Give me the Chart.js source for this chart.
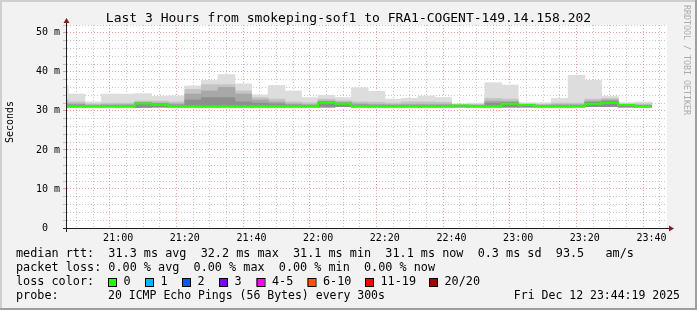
<!DOCTYPE html>
<html><head><meta charset="utf-8">
<script src="https://cdn.jsdelivr.net/npm/chart.js@4/dist/chart.umd.min.js"></script>
<style>html,body{margin:0;padding:0;background:#f2f2f2;}canvas{display:block;}</style>
</head><body>
<canvas id="c" width="697" height="310"></canvas>
<script>
// ---- data (5-minute bins, start time of each bin) ----
const binStarts = ['20:40','20:45','20:50','20:55','21:00','21:05','21:10','21:15','21:20','21:25','21:30','21:35',
  '21:40','21:45','21:50','21:55','22:00','22:05','22:10','22:15','22:20','22:25','22:30','22:35',
  '22:40','22:45','22:50','22:55','23:00','23:05','23:10','23:15','23:20','23:25','23:30','23:35'];
const medianRtt = [31.2, 31.2,31.2,31.2,31.2,31.9,31.6,31.2,31.2,31.2,31.2,31.2,31.2,31.2,31.2,31.2,32.1,31.8,31.2,31.2,31.2,31.2,31.2,31.2,31.4,31.2,31.2,31.8,31.5,31.2,31.2,31.2,31.8,32.1,31.5,31.1];
const smokeLow   = [31.0, 31.0,31.0,31.0,31.0,30.9,31.0,31.0,31.0,31.0,31.0,31.0,31.0,31.0,31.0,31.0,31.0,31.1,31.0,31.0,31.0,31.0,31.0,31.0,31.0,31.0,31.0,31.0,31.0,31.0,31.0,31.0,31.1,31.1,31.0,31.0];
const smokeOuter = [36.5, 34.3,32.3,34.3,34.3,34.4,33.7,33.8,36.4,37.8,39.3,36.9,34.1,36.5,35.1,33.4,34.0,33.4,35.9,35.0,33.0,33.2,33.8,33.4,31.8,32.0,37.2,36.6,32.1,32.1,33.2,39.1,37.8,33.7,32.1,32.3];
const smokeMid   = [33.0, 32.3,31.8,32.0,32.0,32.5,32.5,32.3,35.5,36.7,36.7,35.1,33.4,33.0,32.3,32.1,33.0,32.6,32.3,32.2,32.0,32.3,32.3,32.2,31.6,31.6,33.2,33.0,31.8,31.7,32.0,32.0,33.0,33.2,31.8,31.8];
const smokeInner = [32.0, 31.8,31.5,31.6,31.6,32.2,32.0,31.8,34.3,35.1,36.0,34.3,32.8,32.3,31.8,31.6,32.5,32.2,31.8,31.7,31.6,31.7,31.7,31.7,31.5,31.5,32.5,32.4,31.6,31.5,31.6,31.6,32.5,32.8,31.6,31.5];
const smokeCore  = [31.5, 31.5,31.3,31.4,31.4,32.0,31.8,31.5,32.8,33.4,33.4,32.3,32.0,31.8,31.5,31.4,32.3,32.0,31.5,31.4,31.4,31.4,31.4,31.4,31.4,31.3,32.0,32.1,31.6,31.3,31.4,31.4,32.2,32.5,31.6,31.3];

const xTickLabels = ['21:00','21:20','21:40','22:00','22:20','22:40','23:00','23:20','23:40'];
const yTickValues = [0, 10, 20, 30, 40, 50];
const yTickLabels = ['0  ', '10 m', '20 m', '30 m', '40 m', '50 m'];

const titleText = 'Last 3 Hours from smokeping-sof1 to FRA1-COGENT-149.14.158.202';
const yAxisTitle = 'Seconds';
const rttLine = 'median rtt:  31.3 ms avg  32.2 ms max  31.1 ms min  31.1 ms now  0.3 ms sd  93.5   am/s';
const lossLine = 'packet loss: 0.00 % avg  0.00 % max  0.00 % min  0.00 % now';
const lossColorHeader = 'loss color:';
const lossLabels = ['0', '1', '2', '3', '4-5', '6-10', '11-19', '20/20'];
const lossColors = ['#26ff00', '#00b8ff', '#0059ff', '#7e00ff', '#ff00ff', '#ff5500', '#ff0000', '#a10000'];
const probeHeader = 'probe:';
const probeText = '20 ICMP Echo Pings (56 Bytes) every 300s';
const dateText = 'Fri Dec 12 23:44:19 2025';
const watermark = 'RRDTOOL / TOBI OETIKER';

// ---- helpers ----
const MONO = '"DejaVu Sans Mono", monospace';
const T0 = 20 * 60 + 45;
function toMin(s) { const p = s.split(':'); return (+p[0]) * 60 + (+p[1]) - T0; }
const BIN = 5;
const xMajor = xTickLabels.map(toMin);

function layer(arr, color, order) {
  return {
    type: 'bar', order: order, grouped: false,
    data: binStarts.map((t, i) => ({ x: toMin(t) + BIN / 2, y: [smokeLow[i], arr[i]] })),
    backgroundColor: color, borderWidth: 0, barPercentage: 1, categoryPercentage: 1, inflateAmount: 0.4
  };
}
const medianPts = binStarts.map((t, i) => ({ x: toMin(t), y: medianRtt[i] }));
medianPts.push({ x: toMin(binStarts[binStarts.length - 1]) + BIN, y: medianRtt[medianRtt.length - 1] });

const GRID = 'rgba(143,143,143,0.5)';
const MGRID = 'rgba(222,79,79,0.55)';
const tv = (c) => (c && c.tick) ? c.tick.value : NaN;

const decor = {
  id: 'decor',
  beforeDraw(chart) {
    const { ctx, chartArea: a } = chart;
    ctx.save();
    ctx.fillStyle = '#f2f2f2'; ctx.fillRect(0, 0, 697, 310);
    ctx.fillStyle = '#ffffff'; ctx.fillRect(a.left, a.top, a.right - a.left, a.bottom - a.top);
    ctx.restore();
  },
  afterDraw(chart) {
    const { ctx, chartArea: a } = chart;
    ctx.save();
    ctx.strokeStyle = 'rgb(31,31,31)'; ctx.lineWidth = 1;
    ctx.beginPath();
    ctx.moveTo(a.left - 4, a.bottom + 0.5); ctx.lineTo(a.right + 4, a.bottom + 0.5);
    ctx.moveTo(a.left - 0.5, a.bottom + 4); ctx.lineTo(a.left - 0.5, a.top - 4);
    ctx.stroke();
    ctx.fillStyle = 'rgb(128,31,31)';
    ctx.beginPath();
    ctx.moveTo(a.right + 2, a.bottom + 0.5 - 3); ctx.lineTo(a.right + 2, a.bottom + 0.5 + 3); ctx.lineTo(a.right + 7, a.bottom + 0.5); ctx.closePath(); ctx.fill();
    ctx.beginPath();
    ctx.moveTo(a.left - 0.5 - 3, a.top - 2); ctx.lineTo(a.left - 0.5 + 3, a.top - 2); ctx.lineTo(a.left - 0.5, a.top - 7); ctx.closePath(); ctx.fill();
    ctx.fillStyle = '#cfcfcf';
    ctx.fillRect(0, 0, 697, 2); ctx.fillRect(0, 0, 2, 310);
    ctx.fillStyle = '#9e9e9e';
    ctx.fillRect(695, 0, 2, 310); ctx.fillRect(0, 308, 697, 2);
    ctx.fillStyle = '#000';
    ctx.textBaseline = 'middle';
    ctx.font = '13px ' + MONO; ctx.textAlign = 'center';
    ctx.fillText(titleText, 348.5, 19);
    ctx.textAlign = 'left';
    ctx.font = '11.8px ' + MONO;
    ctx.fillText(rttLine, 16, 254);
    ctx.fillText(lossLine, 16, 268);
    ctx.fillText(lossColorHeader, 16, 282);
    const bx = [108, 145, 182, 219, 256.5, 307.5, 365, 429];
    lossLabels.forEach((s, i) => {
      ctx.fillStyle = lossColors[i]; ctx.fillRect(bx[i], 278, 8, 8);
      ctx.strokeStyle = '#000'; ctx.strokeRect(bx[i] + 0.5, 278.5, 8, 8);
      ctx.fillStyle = '#000'; ctx.fillText(s, bx[i] + 15.5, 282);
    });
    ctx.fillText(probeHeader, 16, 296);
    ctx.font = '11.5px ' + MONO;
    ctx.fillText(probeText, 108, 296);
    ctx.textAlign = 'right';
    ctx.fillText(dateText, 680, 296);
    ctx.save();
    ctx.translate(10, 122); ctx.rotate(-Math.PI / 2);
    ctx.textAlign = 'center'; ctx.font = '10px ' + MONO;
    ctx.fillText(yAxisTitle, 0, 0);
    ctx.restore();
    ctx.save();
    ctx.translate(686, 5); ctx.rotate(Math.PI / 2);
    ctx.textAlign = 'left'; ctx.fillStyle = '#aaaaaa'; ctx.font = '8.3px ' + MONO;
    ctx.fillText(watermark, 0, 0);
    ctx.restore();
    ctx.restore();
  }
};

new Chart(document.getElementById('c'), {
  type: 'bar',
  data: {
    datasets: [
      { type: 'line', order: 0, data: medianPts, borderColor: lossColors[0], borderWidth: 2,
        pointRadius: 0, stepped: true, fill: false, tension: 0 },
      layer(smokeCore, '#8e8e8e', 1),
      layer(smokeInner, '#a8a8a8', 2),
      layer(smokeMid, '#c4c4c4', 3),
      layer(smokeOuter, '#dddddd', 4)
    ]
  },
  options: {
    responsive: false, animation: false, devicePixelRatio: 1, events: [],
    layout: { padding: { top: 25, right: 30, bottom: 0, left: 0 } },
    plugins: { legend: { display: false }, tooltip: { enabled: false }, title: { display: false } },
    scales: {
      x: {
        type: 'linear', min: -0.35, max: 179.65, offset: false, z: 1,
        afterBuildTicks: (s) => { const t = []; for (let v = 0; v <= 175; v += BIN) t.push({ value: v }); s.ticks = t; },
        afterFit: (s) => { s.height = 82; },
        grid: { color: (c) => xMajor.includes(tv(c)) ? MGRID : GRID, drawTicks: false },
        border: { display: false, dash: [1, 2] },
        ticks: {
          autoSkip: false, maxRotation: 0, padding: 4, color: '#000',
          font: { family: 'DejaVu Sans Mono', size: 10 },
          callback: (v) => { const i = xMajor.indexOf(v); return i >= 0 ? xTickLabels[i] : ''; }
        }
      },
      y: {
        type: 'linear', min: 0, max: 52, z: 1,
        afterFit: (s) => { s.width = 67; },
        grid: { color: (c) => yTickValues.includes(tv(c)) ? MGRID : GRID, tickLength: 4,
                tickColor: (c) => yTickValues.includes(tv(c)) ? MGRID : GRID },
        border: { display: false, dash: [1, 2] },
        ticks: {
          stepSize: 2, autoSkip: false, padding: 3, color: '#000',
          font: { family: 'DejaVu Sans Mono', size: 10 },
          callback: (v) => { const i = yTickValues.indexOf(v); return i >= 0 ? yTickLabels[i] : ''; }
        }
      }
    }
  },
  plugins: [decor]
});
</script>
</body></html>
